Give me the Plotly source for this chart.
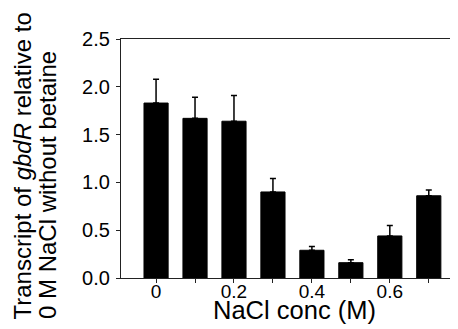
import plotly.graph_objects as go

nacl_conc = [0.0, 0.1, 0.2, 0.3, 0.4, 0.5, 0.6, 0.7]
transcript = [1.83, 1.67, 1.64, 0.90, 0.29, 0.16, 0.44, 0.86]
sem_plus = [0.25, 0.22, 0.27, 0.14, 0.04, 0.03, 0.11, 0.06]

x_tickvals = [0.0, 0.1, 0.2, 0.3, 0.4, 0.5, 0.6, 0.7]
x_ticktext = ["0", "", "0.2", "", "0.4", "", "0.6", ""]
y_tickvals = [0.0, 0.5, 1.0, 1.5, 2.0, 2.5]
y_ticktext = ["0.0", "0.5", "1.0", "1.5", "2.0", "2.5"]

OFF = 8  # page body margin
W, H = 458 - OFF, 329 - OFF
L, R, T, B = 121 - OFF, 0, 39 - OFF, 51
font = "Liberation Sans, Arial, sans-serif"

fig = go.Figure()
fig.add_trace(go.Bar(
    x=nacl_conc, y=transcript, width=0.062,
    marker=dict(color="black", line=dict(color="black", width=1)),
    error_y=dict(type="data", array=sem_plus, arrayminus=[0] * len(sem_plus),
                 symmetric=False, color="black", thickness=1.5, width=3),
))

def px2paper_x(px):  # px in window coordinates
    return (px - OFF - L) / (W - L - R)

def px2paper_y(py):
    return (H - B - (py - OFF)) / (H - T - B)

fig.add_annotation(text="Transcript of <i>gbdR</i> relative to", textangle=-90,
                   xref="paper", yref="paper", x=px2paper_x(22), y=px2paper_y(322),
                   xanchor="center", yanchor="bottom", showarrow=False,
                   font=dict(family=font, size=24, color="black"))
fig.add_annotation(text="0 M NaCl without betaine", textangle=-90,
                   xref="paper", yref="paper", x=px2paper_x(47), y=px2paper_y(321),
                   xanchor="center", yanchor="bottom", showarrow=False,
                   font=dict(family=font, size=24, color="black"))
fig.add_annotation(text="NaCl conc (M)",
                   xref="paper", yref="paper", x=px2paper_x(294), y=px2paper_y(310),
                   xanchor="center", yanchor="middle", showarrow=False,
                   font=dict(family=font, size=25.5, color="black"))

fig.update_layout(
    width=W, height=H, margin=dict(l=L, r=R, t=T, b=B, pad=0),
    plot_bgcolor="white", paper_bgcolor="white", showlegend=False,
    font=dict(family=font, color="black"),
    xaxis=dict(range=[-0.09, 0.775], tickvals=x_tickvals, ticktext=x_ticktext,
               ticks="outside", ticklen=4, tickwidth=1.2, tickcolor="#222",
               showline=True, linecolor="#222", linewidth=1.2, mirror=True,
               showgrid=False, zeroline=False, automargin=False,
               ticklabelstandoff=-8,
               tickfont=dict(size=19, family=font, color="black")),
    yaxis=dict(range=[0, 2.5], tickvals=y_tickvals, ticktext=y_ticktext,
               ticks="outside", ticklen=4, tickwidth=1.2, tickcolor="#222",
               showline=True, linecolor="#222", linewidth=1.2,
               showgrid=False, zeroline=False, automargin=False,
               ticklabelstandoff=2,
               tickfont=dict(size=20, family=font, color="black")),
)

fig.write_html("out.html")
